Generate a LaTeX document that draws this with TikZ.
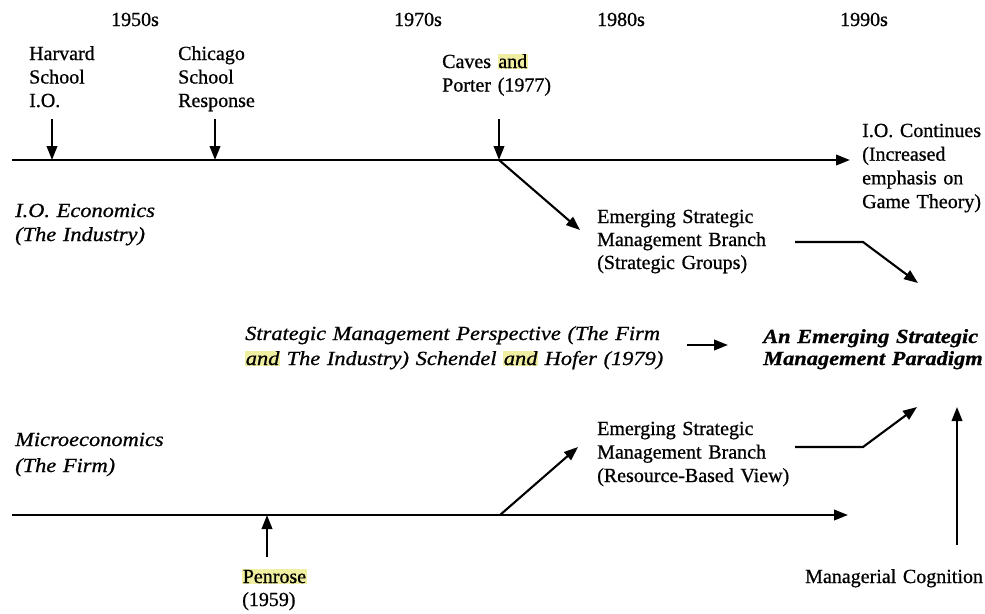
\documentclass[tikz,border=0pt]{standalone}
\usepackage{fontspec}
\setmainfont{Liberation Serif}[FakeBold=0.8]
\newfontfamily\wideserif{Liberation Serif}[FakeStretch=1.12,FakeBold=0.8]
\usetikzlibrary{arrows.meta}
\definecolor{hly}{RGB}{240,238,160}
\newcommand\hlword[1]{{\setlength{\fboxsep}{0.6pt}\colorbox{hly}{#1}}}
\tikzset{
  lbl/.style={anchor=base west, inner sep=0pt, text width=#1, align=left,
    font=\fontsize{20}{23.5}\selectfont},
  lbl/.default=240pt,
  era/.style={anchor=base, inner sep=0pt, font=\fontsize{20}{24}\selectfont},
  itlbl/.style={anchor=base west, inner sep=0pt, text width=#1, align=left,
    font=\wideserif\itshape\fontsize{20}{24}\selectfont},
  itlbl/.default=240pt,
  flow/.style={line width=2.1pt, -{Triangle[length=14pt,width=10.5pt]}},
  plain/.style={line width=2.1pt}
}
\begin{document}
\begin{tikzpicture}[x=1pt,y=-1pt]
\useasboundingbox (0,0) rectangle (985,613);

% decades
\node[era] (d50) at (135,26) {1950s};
\node[era] (d70) at (418,26) {1970s};
\node[era] (d80) at (621,26) {1980s};
\node[era] (d90) at (864,26) {1990s};

% events above the industry line
\node[lbl=120pt] (harvard) at (29,60) {Harvard\\School\\I.O.};
\node[lbl=120pt] (chicago) at (178,60) {Chicago\\School\\Response};
\node[lbl=160pt] (caves) at (442,68) {Caves \hlword{and}\\Porter (1977)};
\node[lbl=130pt,font=\fontsize{20}{23.7}\selectfont] (iocont) at (862,137)
  {I.O. Continues\\(Increased\\emphasis on\\Game Theory)};

% streams
\node[itlbl=160pt] (ioecon) at (15,217) {I.O. Economics\\(The Industry)};
\node[itlbl=180pt,font=\wideserif\itshape\fontsize{20}{26}\selectfont] (micro) at (15,446)
  {Microeconomics\\(The Firm)};

% strategic management branches
\node[lbl=200pt,font=\fontsize{20}{23}\selectfont] (sg) at (597,223)
  {Emerging Strategic\\Management Branch\\(Strategic Groups)};
\node[lbl=220pt] (rbv) at (597,435)
  {Emerging Strategic\\Management Branch\\(Resource-Based View)};

\node[itlbl=440pt,font=\wideserif\itshape\fontsize{20}{25}\selectfont] (smp) at (245,340)
  {Strategic Management Perspective (The Firm\\\hlword{and} The Industry) Schendel \hlword{and} Hofer (1979)};
\node[itlbl=240pt,font=\wideserif\bfseries\itshape\fontsize{20}{22}\selectfont] (paradigm) at (763,343)
  {An Emerging Strategic\\Management Paradigm};

% events below the firm line
\node[lbl=100pt,font=\fontsize{20}{23}\selectfont] (penrose) at (242,583) {\hlword{Penrose}\\(1959)};
\node[lbl=190pt] (cognition) at (805,583) {Managerial Cognition};

% timeline anchor points
\coordinate (ioL) at (12,160);
\coordinate (ioR) at (850,160);
\coordinate (harvardT) at (52,119);
\coordinate (harvardB) at (52,160);
\coordinate (chicagoT) at (215,119);
\coordinate (chicagoB) at (215,160);
\coordinate (cavesT) at (499,119);
\coordinate (cavesB) at (499,160);
\coordinate (sgTip) at (580,230);
\coordinate (sgOut) at (795,242);
\coordinate (sgBend) at (863,242);
\coordinate (sgEnd) at (918,283);
\coordinate (smpOut) at (687,345);
\coordinate (smpEnd) at (728,345);
\coordinate (fmL) at (12,515);
\coordinate (fmR) at (848,515);
\coordinate (penroseB) at (267,557);
\coordinate (penroseT) at (267,515);
\coordinate (rbvStart) at (500,515);
\coordinate (rbvTip) at (578,447);
\coordinate (rbvOut) at (795,447);
\coordinate (rbvBend) at (863,447);
\coordinate (rbvEnd) at (917,407);
\coordinate (cogB) at (957,545);
\coordinate (cogT) at (957,407);

% industry line and its events
\draw[flow] (ioL) -- (ioR);
\draw[flow] (harvardT) -- (harvardB);
\draw[flow] (chicagoT) -- (chicagoB);
\draw[flow] (cavesT) -- (cavesB);
\draw[flow] (cavesB) -- (sgTip);
\draw[flow] (sgOut) -- (sgBend) -- (sgEnd);

% perspective into paradigm
\draw[flow] (smpOut) -- (smpEnd);

% firm line and its events
\draw[flow] (fmL) -- (fmR);
\draw[flow] (penroseB) -- (penroseT);
\draw[flow] (rbvStart) -- (rbvTip);
\draw[flow] (rbvOut) -- (rbvBend) -- (rbvEnd);
\draw[flow] (cogB) -- (cogT);
\end{tikzpicture}
\end{document}
